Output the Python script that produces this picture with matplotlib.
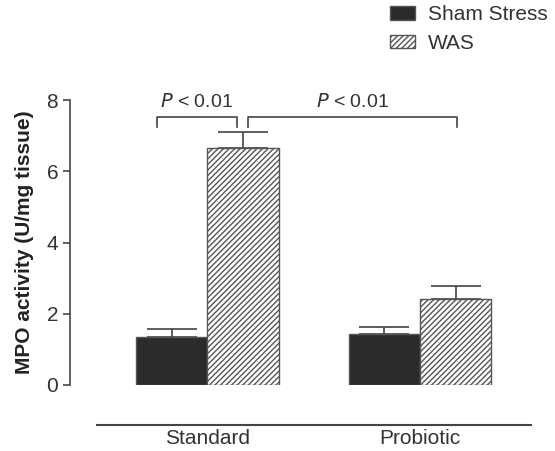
import matplotlib
matplotlib.use("Agg")
import matplotlib.pyplot as plt
import numpy as np

plt.rcParams['font.family'] = ['Liberation Sans', 'DejaVu Sans']
plt.rcParams['hatch.linewidth'] = 1.0
plt.rcParams['hatch.color'] = '#3a3a3a'

groups = ['Standard', 'Probiotic']
series = ['Sham Stress', 'WAS']
sham_mean = [1.35, 1.43]
sham_sem = [0.22, 0.20]
was_mean = [6.66, 2.42]
was_sem = [0.43, 0.35]

fig = plt.figure(figsize=(5.55, 4.51), dpi=100)
ax = fig.add_axes([70 / 555, (451 - 385) / 451, (540 - 70) / 555, (385 - 100) / 451])

x = np.arange(len(groups))
w = 0.335
grey = '#444444'
ax.bar(x - w / 2, sham_mean, w, color='#2b2b2b', edgecolor='#555555', linewidth=1,
       label=series[0], zorder=2)
ax.bar(x + w / 2, was_mean, w, color='white', edgecolor='#555555', hatch='//////',
       linewidth=1, label=series[1], zorder=2)
ax.errorbar(x - w / 2, sham_mean, yerr=[np.zeros(2), sham_sem], fmt='none',
            ecolor=grey, elinewidth=1.2, capsize=18, capthick=1.2, zorder=1)
ax.errorbar(x + w / 2, was_mean, yerr=[np.zeros(2), was_sem], fmt='none',
            ecolor=grey, elinewidth=1.2, capsize=18, capthick=1.2, zorder=1)

ax.set_ylim(0, 8)
ax.set_xlim(-0.646, 1.564)
ax.set_yticks([0, 2, 4, 6, 8])
ax.set_xticks(x)
ax.set_xticklabels(groups)
ax.tick_params(axis='x', length=0, pad=3, labelsize=15, labelcolor='#333333')
ax.tick_params(axis='y', labelsize=15, labelcolor='#333333', color=grey, width=1.2, length=5)

for s in ['top', 'right']:
    ax.spines[s].set_visible(False)
ax.spines['left'].set_color(grey)
ax.spines['left'].set_linewidth(1.2)
ax.spines['bottom'].set_position(('outward', 29))
ax.spines['bottom'].set_bounds(-0.518, 1.52)
ax.spines['bottom'].set_color(grey)
ax.spines['bottom'].set_linewidth(1.5)

ax.set_ylabel('MPO activity (U/mg tissue)', fontsize=15, fontweight='bold', color='#222222',
              labelpad=9)

# significance brackets
def bracket(x1, x2, y, h):
    ax.plot([x1, x1, x2, x2], [y - h, y, y, y - h], color=grey, lw=1.2, clip_on=False)
    ax.text((x1 + x2) / 2, y + 0.15, r'$\it{P}$ < 0.01', ha='center', va='bottom',
            fontsize=14, color='#333333')

bracket(-0.236, 0.137, 7.53, 0.3)
bracket(0.189, 1.175, 7.53, 0.3)

leg = fig.legend(loc='upper left', bbox_to_anchor=(387 / 555, 0.995), frameon=False,
                 fontsize=15, handlelength=1.2, handleheight=0.6, labelspacing=0.45,
                 handletextpad=0.6, borderaxespad=0.0, borderpad=0.15)
for t in leg.get_texts():
    t.set_color('#333333')

fig.savefig('out.png', dpi=100)
